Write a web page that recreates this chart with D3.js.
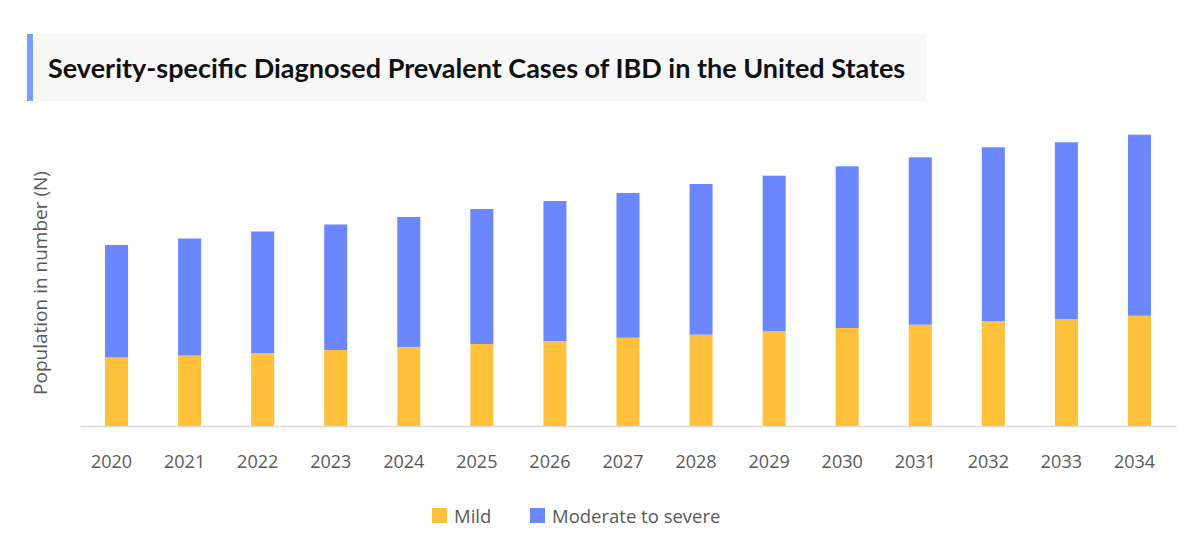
<!DOCTYPE html>
<html lang="en">
<head>
    <meta charset="UTF-8">
    <title>Severity-specific Diagnosed Prevalent Cases of IBD</title>
    <script src="https://cdn.jsdelivr.net/npm/d3@7"></script>
    <style>
        body { margin: 0; background: #fff; }
        text { font-family: "Open Sans", sans-serif; }
    </style>
</head>
<body>
<script>
    // values (no axis values shown, estimated counts)
    var years = ["2020", "2021", "2022", "2023", "2024", "2025", "2026", "2027",
        "2028", "2029", "2030", "2031", "2032", "2033", "2034"];
    var mild = [68500, 70500, 73000, 76000, 79000, 82000, 85000, 88300,
        91300, 94700, 98000, 101300, 105000, 107000, 110300];
    var moderate = [112500, 117000, 121500, 125500, 130000, 135000, 140000, 144700,
        150700, 155600, 161700, 167400, 173700, 176700, 181000];
    var seriesNames = ["Mild", "Moderate to severe"];
    var colors = ["#ffc13b", "#6a87ff"];

    var W = 1200, H = 557;
    var svg = d3.select("body").append("svg").attr("width", W).attr("height", H);

    // title box
    svg.append("rect").attr("x", 27).attr("y", 34).attr("width", 899).attr("height", 67).attr("fill", "#f7f7f7");
    svg.append("rect").attr("x", 27).attr("y", 34).attr("width", 6).attr("height", 67).attr("fill", "#7b9cff");
    svg.append("text").attr("x", 48).attr("y", 78)
        .style("font-family", "Lato, sans-serif")
        .attr("font-size", 27).attr("font-weight", "bold").attr("fill", "#111")
        .text("Severity-specific Diagnosed Prevalent Cases of IBD in the United States");

    var rows = years.map(function (y, i) {
        return {year: y, mild: mild[i], moderate: moderate[i]};
    });
    var stack = d3.stack().keys(["mild", "moderate"])(rows);

    var x = d3.scaleBand().domain(years).range([80, 1176]).paddingInner(0.685).paddingOuter(0.3425);
    var y = d3.scaleLinear().domain([0, 300000]).range([426, 126]);

    svg.selectAll("g.layer").data(stack).enter().append("g").attr("class", "layer")
        .attr("fill", function (d, i) { return colors[i]; })
        .selectAll("rect").data(function (d) { return d; }).enter().append("rect")
        .attr("x", function (d) { return x(d.data.year); })
        .attr("width", x.bandwidth())
        .attr("y", function (d) { return y(d[1]); })
        .attr("height", function (d) { return y(d[0]) - y(d[1]); });

    // x axis
    var xAxis = d3.axisBottom(x).tickSize(0).tickPadding(29);
    var gx = svg.append("g").attr("transform", "translate(0,426)").call(xAxis);
    gx.select(".domain").attr("stroke", "#d9d9d9").attr("stroke-width", 1.5);
    gx.selectAll("text").attr("font-size", 18).attr("fill", "#595959").attr("dx", -5)
        .style("font-family", "'Open Sans', sans-serif");

    // y label
    svg.append("text").attr("transform", "translate(47,283) rotate(-90)")
        .attr("text-anchor", "middle").attr("font-size", 19).attr("fill", "#595959")
        .text("Population in number (N)");

    // legend
    var legX = [432, 530];
    var leg = svg.selectAll("g.leg").data(seriesNames).enter().append("g").attr("class", "leg")
        .attr("transform", function (d, i) { return "translate(" + legX[i] + ",508)"; });
    leg.append("rect").attr("width", 15).attr("height", 15).attr("fill", function (d, i) { return colors[i]; });
    leg.append("text").attr("x", 22).attr("y", 14.5).attr("font-size", 18.5).attr("fill", "#595959")
        .text(function (d) { return d; });
</script>
</body>
</html>
